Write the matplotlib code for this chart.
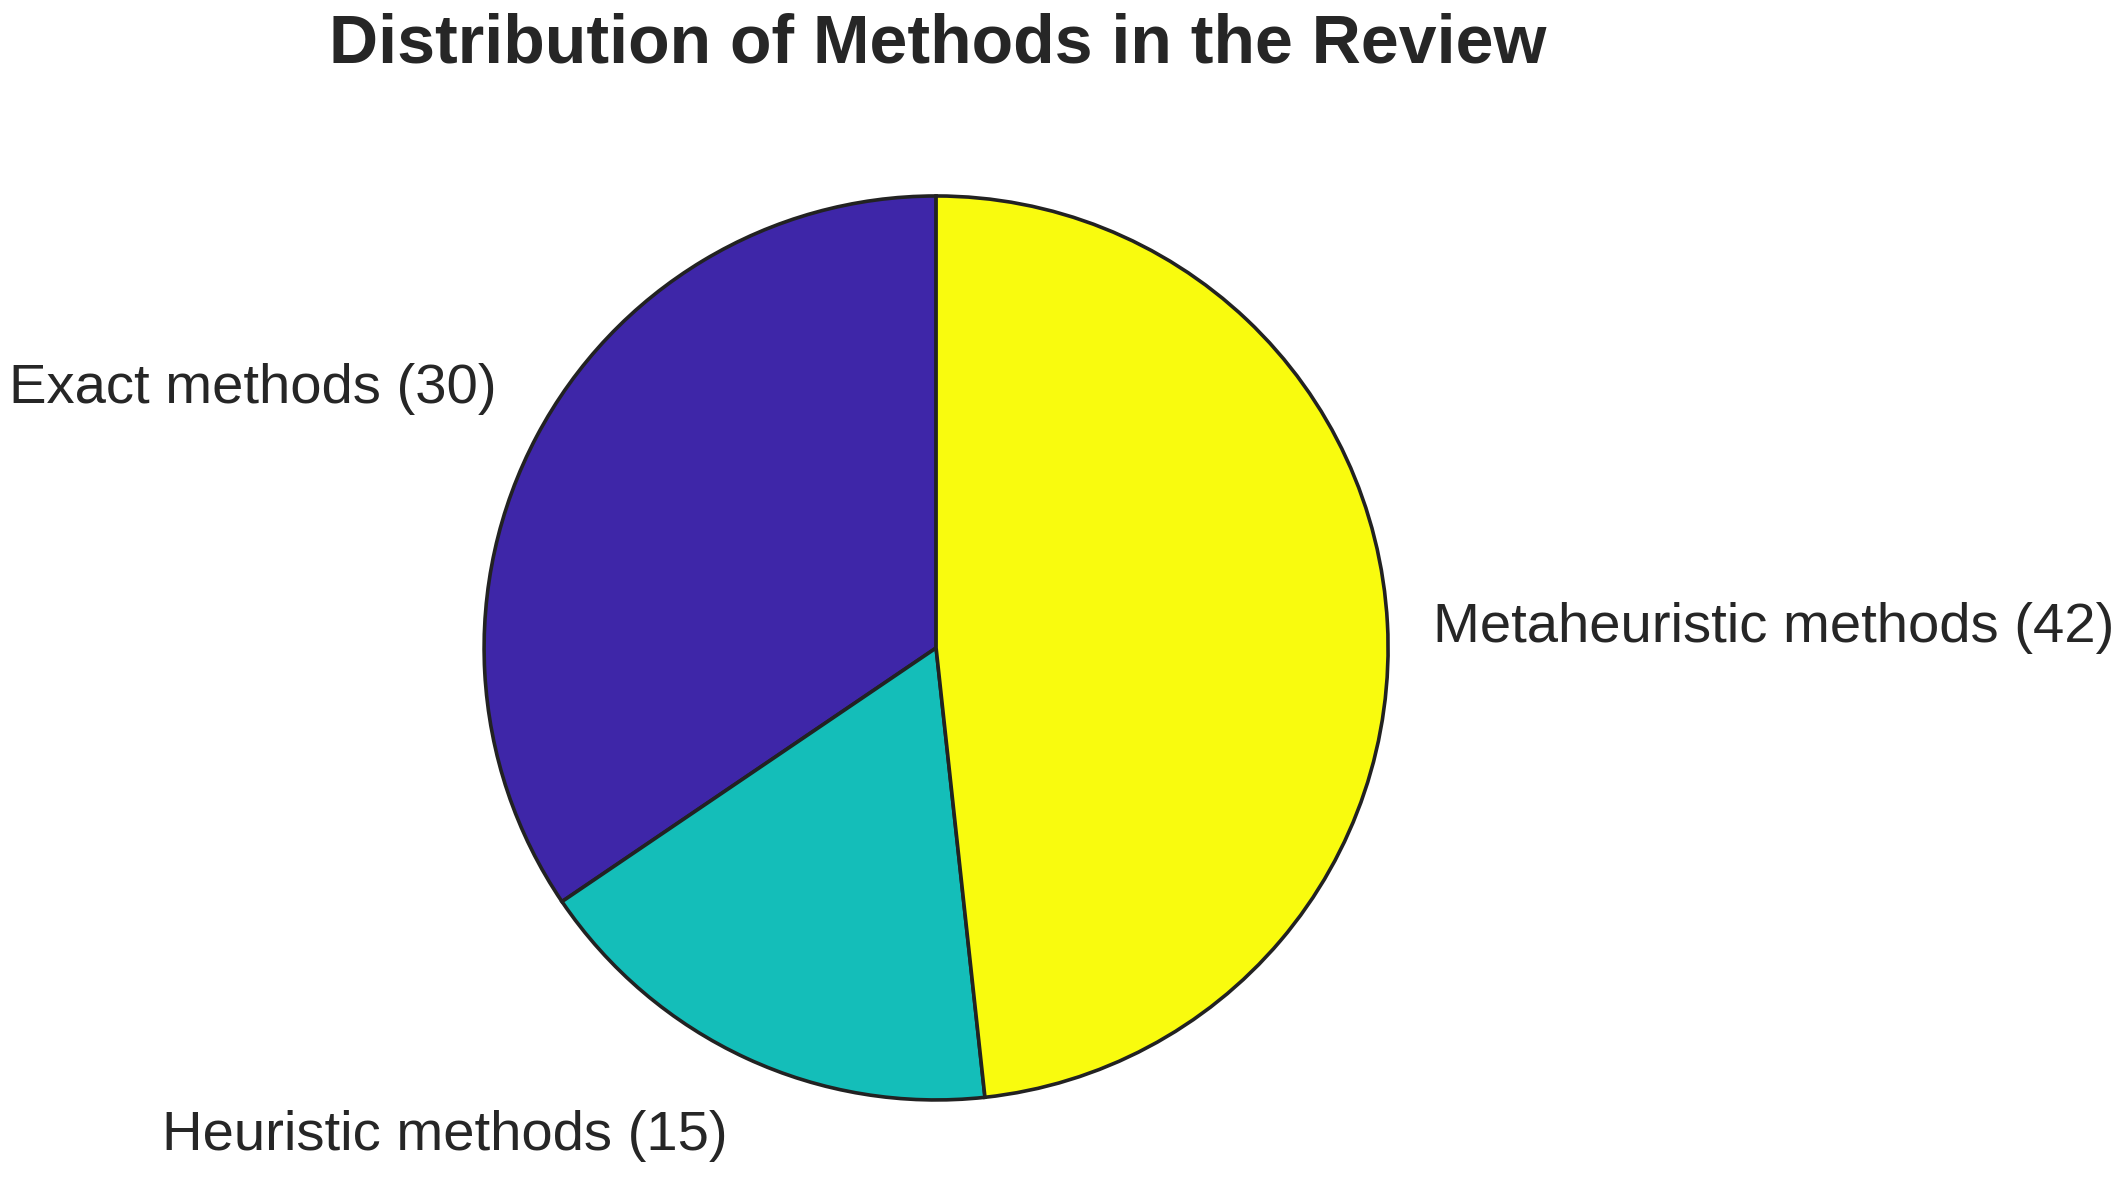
import numpy as np
import matplotlib as mpl
mpl.use('Agg')
import matplotlib.pyplot as plt

# data
methods = ['Exact methods', 'Heuristic methods', 'Metaheuristic methods']
counts = [30, 15, 42]
colors = ['#3E26A8', '#14BEB9', '#F9FB0E']

labels = ['%s (%d)' % (m, c) for m, c in zip(methods, counts)]

plt.rcParams['font.family'] = ['Liberation Sans', 'DejaVu Sans']

fig = plt.figure(figsize=(21.27, 11.85), dpi=100)
ax = fig.add_axes([0.2276, 0.0717, 0.425, 0.763])

wedges, texts = ax.pie(counts, labels=labels, colors=colors, startangle=90,
                       counterclock=True, labeldistance=1.1,
                       wedgeprops=dict(edgecolor='#222222', linewidth=2.6),
                       textprops=dict(fontsize=40.5, color='#262626'))

# MATLAB-like vertical alignment of the labels
for w, t in zip(wedges, texts):
    ang = np.deg2rad((w.theta1 + w.theta2) / 2)
    s = np.sin(ang)
    x, y = t.get_position()
    if s > 0.3:
        t.set_va('bottom')
    elif s < -0.3:
        t.set_va('top')
        t.set_position((x, y - 0.024))
    else:
        t.set_va('center')
        t.set_position((x, y - 0.015))

ax.set_xlim(-1, 1)
ax.set_ylim(-1, 1)
ax.set_aspect('equal')

fig.text(0.441, 0.947, 'Distribution of Methods in the Review', ha='center',
         va='baseline', fontsize=49, fontweight='bold', color='#262626')

plt.savefig('out.png', dpi=100, facecolor='white')
